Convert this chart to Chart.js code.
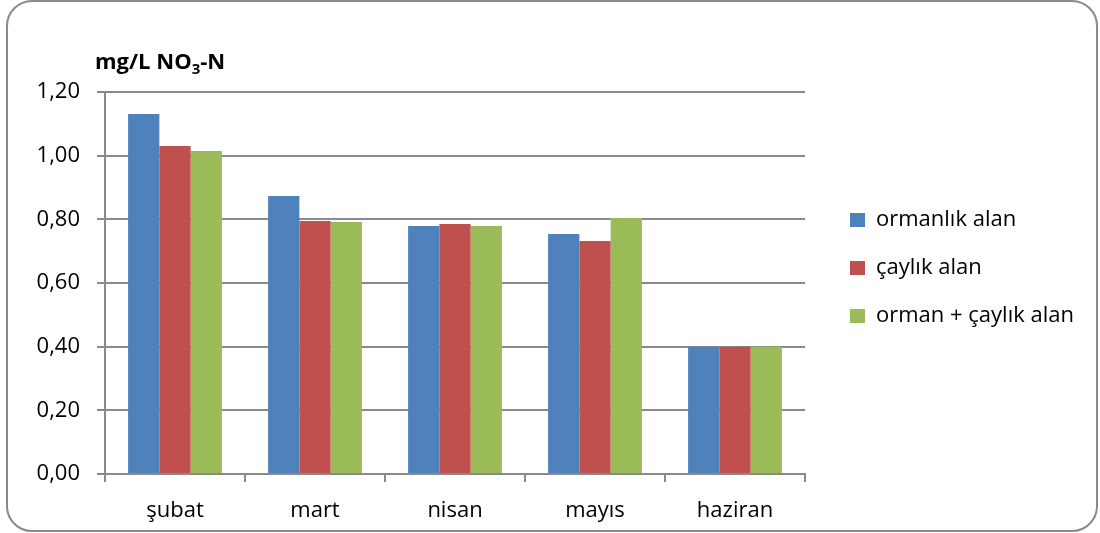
<!DOCTYPE html>
<html>
<head>
<meta charset="utf-8">
<script src="https://cdn.jsdelivr.net/npm/chart.js@4.4.1/dist/chart.umd.min.js"></script>
<style>
  body { margin: 0; background: #fff; }
  #wrap { position: relative; width: 1100px; height: 533px; }
  #frame {
    position: absolute; left: 6px; top: 0; width: 1092px; height: 532px;
    box-sizing: border-box; border: 2px solid #8a8a8a; border-radius: 26px;
    pointer-events: none;
  }
  #ytitle {
    position: absolute; left: 95px; top: 45px;
    font: bold 22px "Open Sans", sans-serif; color: #000; white-space: nowrap;
  }
  #ytitle sub { font-size: 15px; vertical-align: -5px; line-height: 0; }
</style>
</head>
<body>
<div id="wrap">
  <canvas id="chart" width="1100" height="533"></canvas>
  <div id="ytitle">mg/L NO<sub>3</sub>-N</div>
  <div id="frame"></div>
</div>
<script>
const categories = ["şubat", "mart", "nisan", "mayıs", "haziran"];
const seriesNames = ["ormanlık alan", "çaylık alan", "orman + çaylık alan"];
const ormanlik = [1.131, 0.873, 0.779, 0.754, 0.40];
const caylik = [1.030, 0.795, 0.785, 0.732, 0.40];
const ormanCaylik = [1.015, 0.792, 0.779, 0.804, 0.40];
const yTicks = [0, 0.2, 0.4, 0.6, 0.8, 1.0, 1.2];

const gridColor = "#8a8a8a";
const font = { family: "'Open Sans', sans-serif", size: 22 };

// legend konumunu referansa göre ayarla
const legendPlace = {
  id: "legendPlace",
  beforeInit(chart) {
    const lg = chart.legend;
    const fit = lg.fit.bind(lg);
    lg.fit = function () {
      fit();
      this.width = 1100 - 805;
    };
  },
  afterLayout(chart) {
    const lg = chart.legend;
    const dx = 824 - lg.left;
    const dy = 183 - lg.top;
    lg.left += dx; lg.right += dx;
    lg.top += dy; lg.bottom += dy;
  }
};

new Chart(document.getElementById("chart"), {
  type: "bar",
  data: {
    labels: categories,
    datasets: [
      { label: seriesNames[0], data: ormanlik, backgroundColor: "#4f81bd" },
      { label: seriesNames[1], data: caylik, backgroundColor: "#c0504d" },
      { label: seriesNames[2], data: ormanCaylik, backgroundColor: "#9bbb59" }
    ]
  },
  options: {
    responsive: false,
    animation: false,
    layout: { padding: { top: 92, left: 0, right: 0, bottom: 0 } },
    datasets: { bar: { categoryPercentage: 0.67, barPercentage: 1.0 } },
    plugins: {
      legend: {
        position: "right",
        align: "start",
        labels: {
          boxWidth: 15,
          boxHeight: 14,
          padding: 26,
          color: "#000",
          font: font
        }
      },
      tooltip: { enabled: false }
    },
    scales: {
      x: {
        afterFit(scale) { scale.height = 59; },
        grid: {
          drawOnChartArea: false,
          drawTicks: true,
          tickLength: 8,
          color: gridColor,
          lineWidth: 2
        },
        border: { color: gridColor, width: 2 },
        ticks: { color: "#000", font: font, padding: 16 }
      },
      y: {
        min: 0,
        max: 1.2,
        afterFit(scale) { scale.width = 105; },
        afterBuildTicks(scale) {
          scale.ticks = yTicks.map((v) => ({ value: v }));
        },
        grid: { color: gridColor, lineWidth: 2, tickLength: 8 },
        border: { color: gridColor, width: 2 },
        ticks: {
          color: "#000",
          font: font,
          padding: 17,
          callback: (v) => v.toFixed(2).replace(".", ",")
        }
      }
    }
  },
  plugins: [legendPlace]
});
</script>
</body>
</html>
